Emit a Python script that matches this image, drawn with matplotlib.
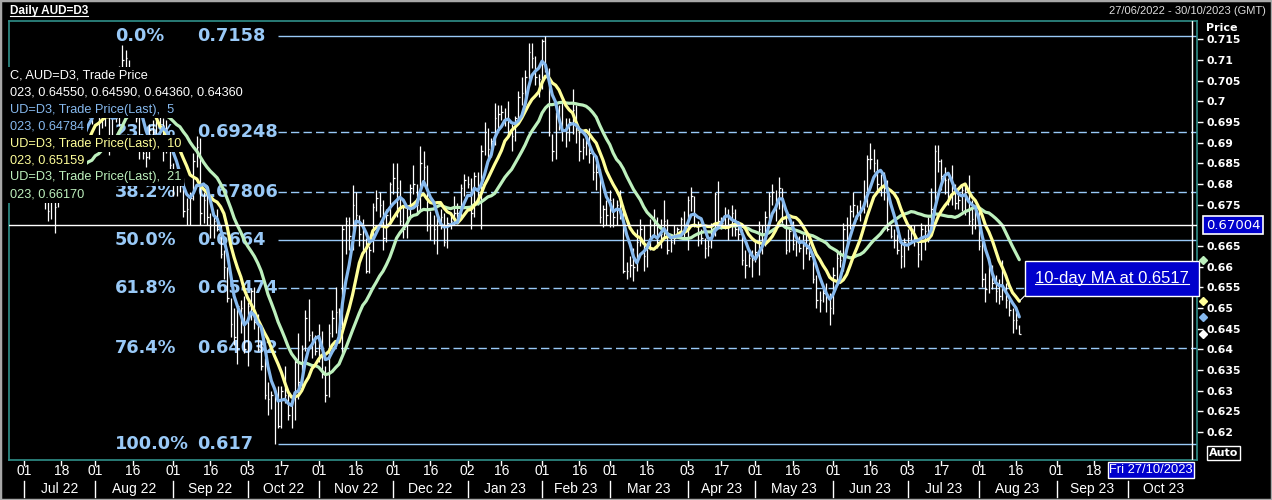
import numpy as np
import pandas as pd
import matplotlib
matplotlib.use("Agg")
import matplotlib.pyplot as plt
from matplotlib import transforms
from matplotlib.lines import Line2D
from matplotlib.patches import Rectangle
from matplotlib.text import Text

W, H = 1272, 500

# trading-day axis of the window (27/06/2022 - 30/10/2023)
first_day = "2022-06-27"
last_day = "2023-10-30"

# daily AUD=D3 bars in 1/10000, Mon 27/06/2022 .. Thu 17/08/2023
close_pips = [
    6925, 6900, 6875, 6905, 6800, 6855, 6775, 6790, 6855, 6855,
    6765, 6735, 6785, 6745, 6800, 6860, 6900, 6890, 6895, 6910,
    6930, 6905, 6980, 6990, 6985, 7030, 6955, 6965, 6975, 6910,
    6990, 6960, 7070, 7100, 7105, 7020, 7040, 6960, 6905, 6875,
    6865, 6930, 6925, 6980, 6910, 6935, 6890, 6845, 6805, 6800,
    6795, 6735, 6740, 6765, 6855, 6890, 6730, 6760, 6720, 6700,
    6710, 6690, 6630, 6600, 6525, 6460, 6430, 6505, 6500, 6400,
    6505, 6540, 6465, 6400, 6360, 6290, 6280, 6290, 6300, 6215,
    6300, 6290, 6240, 6275, 6370, 6320, 6400, 6475, 6435, 6425,
    6395, 6425, 6340, 6290, 6440, 6475, 6490, 6455, 6690, 6710,
    6675, 6750, 6725, 6680, 6665, 6590, 6640, 6745, 6765, 6750,
    6670, 6725, 6800, 6815, 6790, 6710, 6690, 6720, 6790, 6800,
    6750, 6850, 6840, 6700, 6700, 6690, 6710, 6720, 6660, 6705,
    6710, 6730, 6730, 6790, 6810, 6800, 6730, 6820, 6760, 6880,
    6925, 6885, 6905, 6960, 6970, 6975, 6960, 6920, 6915, 6960,
    7010, 7020, 7060, 7120, 7105, 7060, 7055, 7145, 7075, 6925,
    6880, 6965, 6945, 6930, 6925, 6950, 6980, 6930, 6880, 6890,
    6900, 6875, 6830, 6830, 6720, 6740, 6725, 6760, 6720, 6750,
    6735, 6590, 6590, 6605, 6600, 6660, 6690, 6625, 6650, 6700,
    6710, 6660, 6680, 6710, 6640, 6660, 6670, 6690, 6715, 6690,
    6760, 6770, 6700, 6680, 6670, 6645, 6650, 6690, 6775, 6710,
    6705, 6725, 6700, 6730, 6690, 6680, 6615, 6605, 6620, 6615,
    6635, 6690, 6680, 6720, 6770, 6780, 6760, 6790, 6720, 6640,
    6685, 6655, 6665, 6645, 6650, 6645, 6625, 6570, 6520, 6520,
    6535, 6530, 6500, 6580, 6620, 6615, 6690, 6700, 6735, 6750,
    6730, 6740, 6770, 6860, 6860, 6850, 6800, 6795, 6800, 6690,
    6675, 6665, 6640, 6625, 6660, 6670, 6690, 6665, 6630, 6690,
    6685, 6700, 6740, 6880, 6855, 6820, 6810, 6765, 6790, 6755,
    6760, 6785, 6780, 6710, 6715, 6730, 6650, 6570, 6545, 6595,
    6560, 6540, 6530, 6545, 6520, 6495, 6470, 6471, 6436,
]
high_pips = [
    6965, 6965, 6915, 6925, 6900, 6870, 6870, 6800, 6875, 6875,
    6860, 6790, 6795, 6800, 6815, 6870, 6920, 6925, 6935, 6940,
    6945, 6960, 6990, 7010, 7005, 7050, 7040, 6990, 7000, 7000,
    7000, 7000, 7085, 7136, 7125, 7100, 7055, 7050, 6985, 6915,
    6895, 6945, 6955, 6990, 7010, 6960, 6955, 6905, 6850, 6845,
    6830, 6815, 6765, 6780, 6875, 6915, 6910, 6780, 6790, 6730,
    6720, 6740, 6700, 6640, 6600, 6525, 6500, 6510, 6520, 6530,
    6515, 6545, 6550, 6485, 6420, 6380, 6320, 6300, 6300, 6310,
    6310, 6360, 6300, 6290, 6380, 6440, 6410, 6495, 6522, 6445,
    6435, 6460, 6445, 6360, 6460, 6495, 6550, 6500, 6700, 6720,
    6720, 6797, 6780, 6725, 6715, 6670, 6650, 6755, 6785, 6780,
    6760, 6740, 6805, 6850, 6850, 6810, 6745, 6745, 6800, 6845,
    6800, 6893, 6880, 6845, 6735, 6725, 6735, 6740, 6730, 6720,
    6725, 6770, 6755, 6800, 6825, 6820, 6815, 6830, 6830, 6895,
    6950, 6935, 6910, 6995, 6990, 6990, 6985, 7000, 6945, 6965,
    7025, 7060, 7075, 7140, 7140, 7110, 7065, 7150, 7158, 7080,
    6920, 6975, 6990, 7000, 6960, 6960, 7030, 6990, 6935, 6910,
    6915, 6935, 6880, 6850, 6835, 6750, 6760, 6785, 6765, 6760,
    6785, 6750, 6610, 6625, 6645, 6690, 6715, 6700, 6660, 6715,
    6740, 6720, 6715, 6760, 6715, 6680, 6700, 6695, 6720, 6735,
    6770, 6793, 6770, 6710, 6690, 6670, 6665, 6705, 6780, 6806,
    6720, 6745, 6740, 6750, 6740, 6710, 6690, 6640, 6640, 6640,
    6660, 6710, 6700, 6735, 6780, 6800, 6785, 6818, 6790, 6730,
    6695, 6710, 6675, 6675, 6680, 6685, 6660, 6630, 6580, 6540,
    6550, 6560, 6535, 6600, 6640, 6640, 6705, 6720, 6750, 6780,
    6750, 6760, 6810, 6870, 6900, 6885, 6860, 6825, 6830, 6810,
    6700, 6690, 6680, 6660, 6670, 6690, 6700, 6700, 6670, 6705,
    6700, 6720, 6790, 6895, 6895, 6860, 6840, 6815, 6845, 6800,
    6790, 6800, 6800, 6822, 6760, 6740, 6735, 6665, 6585, 6620,
    6605, 6580, 6570, 6615, 6560, 6525, 6500, 6490, 6459,
]
low_pips = [
    6895, 6880, 6855, 6850, 6765, 6790, 6762, 6765, 6780, 6805,
    6740, 6710, 6715, 6681, 6745, 6790, 6825, 6855, 6875, 6870,
    6890, 6870, 6890, 6960, 6945, 6975, 6885, 6935, 6940, 6870,
    6905, 6950, 6940, 7055, 7075, 6985, 6975, 6950, 6860, 6860,
    6840, 6860, 6900, 6910, 6895, 6855, 6875, 6835, 6770, 6770,
    6780, 6720, 6700, 6700, 6760, 6840, 6700, 6705, 6700, 6670,
    6670, 6685, 6620, 6570, 6515, 6430, 6410, 6365, 6440, 6390,
    6360, 6470, 6450, 6395, 6350, 6280, 6240, 6255, 6170, 6210,
    6210, 6270, 6230, 6210, 6230, 6280, 6310, 6395, 6420, 6380,
    6385, 6370, 6330, 6272, 6285, 6430, 6440, 6450, 6390, 6630,
    6640, 6640, 6700, 6650, 6640, 6585, 6585, 6635, 6735, 6720,
    6640, 6660, 6705, 6775, 6720, 6700, 6670, 6670, 6715, 6775,
    6730, 6735, 6810, 6685, 6665, 6655, 6630, 6690, 6650, 6645,
    6690, 6700, 6710, 6715, 6770, 6790, 6690, 6720, 6750, 6690,
    6870, 6855, 6865, 6895, 6935, 6955, 6940, 6915, 6880, 6905,
    6955, 6990, 7000, 7055, 7080, 7040, 7010, 7030, 7070, 6915,
    6855, 6860, 6930, 6905, 6890, 6905, 6920, 6900, 6855, 6860,
    6870, 6850, 6810, 6785, 6705, 6695, 6700, 6695, 6695, 6700,
    6715, 6585, 6570, 6575, 6564, 6590, 6650, 6590, 6600, 6640,
    6675, 6645, 6645, 6670, 6630, 6635, 6655, 6670, 6675, 6670,
    6640, 6735, 6695, 6650, 6655, 6620, 6625, 6645, 6675, 6700,
    6690, 6690, 6665, 6675, 6675, 6665, 6605, 6572, 6600, 6575,
    6610, 6580, 6630, 6650, 6695, 6750, 6710, 6740, 6705, 6630,
    6635, 6640, 6625, 6635, 6595, 6630, 6615, 6560, 6500, 6490,
    6515, 6490, 6458, 6485, 6555, 6600, 6590, 6650, 6690, 6720,
    6715, 6710, 6730, 6745, 6835, 6830, 6785, 6770, 6760, 6685,
    6670, 6645, 6630, 6596, 6600, 6640, 6665, 6650, 6600, 6615,
    6640, 6660, 6690, 6730, 6830, 6785, 6775, 6750, 6750, 6740,
    6740, 6735, 6725, 6700, 6680, 6690, 6640, 6550, 6515, 6535,
    6545, 6515, 6510, 6520, 6500, 6480, 6440, 6450, 6436,
]

ma_periods = [21, 10, 5]
ma_colors = ["#bdf0bd", "#ffff99", "#86b9ee"]

fib_ratios = [0.0, 0.236, 0.382, 0.5, 0.618, 0.764, 1.0]
fib_names = ["0.0%", "23.6%", "38.2%", "50.0%", "61.8%", "76.4%", "100.0%"]
fib_dashed = [False, True, True, False, True, True, False]

price_ticks = [0.62, 0.625, 0.63, 0.635, 0.64, 0.645, 0.65, 0.655, 0.66, 0.665,
               0.675, 0.68, 0.685, 0.69, 0.695, 0.7, 0.705, 0.71, 0.715]

day_tick_dates = ["2022-07-01", "2022-07-18", "2022-08-01", "2022-08-16",
                  "2022-09-01", "2022-09-16", "2022-10-03", "2022-10-17",
                  "2022-11-01", "2022-11-16", "2022-12-01", "2022-12-16",
                  "2023-01-02", "2023-01-16", "2023-02-01", "2023-02-16",
                  "2023-03-01", "2023-03-16", "2023-04-03", "2023-04-17",
                  "2023-05-01", "2023-05-16", "2023-06-01", "2023-06-16",
                  "2023-07-03", "2023-07-17", "2023-08-01", "2023-08-16",
                  "2023-09-01", "2023-09-18"]

cursor_date = "2023-10-27"
cursor_price = 0.67004
note_text = "10-day MA at 0.6517"

legend_rows = [
    ("C, AUD=D3, Trade Price", "white"),
    ("023, 0.64550, 0.64590, 0.64360, 0.64360", "white"),
    ("UD=D3, Trade Price(Last),  5", ma_colors[2]),
    ("023, 0.64784", ma_colors[2]),
    ("UD=D3, Trade Price(Last),  10", ma_colors[1]),
    ("023, 0.65159", ma_colors[1]),
    ("UD=D3, Trade Price(Last),  21", ma_colors[0]),
    ("023, 0.66170", ma_colors[0]),
]

assert len(close_pips) == len(high_pips) == len(low_pips)

dates = pd.bdate_range(first_day, last_day)
n_days = len(dates)
close = np.array(close_pips) / 10000
high = np.array(high_pips) / 10000
low = np.array(low_pips) / 10000
x = np.arange(len(close))

fib_color = "#99c9f7"
teal = "#2f8f8a"

fig = plt.figure(figsize=(W / 100, H / 100), dpi=100, facecolor="black")
ax = fig.add_axes([9 / W, 1 - 460 / H, 1188 / W, 439 / H], facecolor="black")
ax.set_xlim(-0.5, n_days - 0.5)
ax.set_ylim(0.61321, 0.71943)

yb = transforms.blended_transform_factory(ax.transAxes, ax.transData)
xb = transforms.blended_transform_factory(ax.transData, ax.transAxes)


def ay(py):
    # pixel row -> axes fraction
    return (460 - py) / 439


# fibonacci retracement from the Oct 22 low to the Feb 23 high
fib_low, fib_high = low.min(), high.max()
fib_start = int(np.argmin(low)) + 1
for ratio, name, dashed in zip(fib_ratios, fib_names, fib_dashed):
    level = fib_high - ratio * (fib_high - fib_low)
    ax.hlines(level, fib_start, n_days - 0.5, color=fib_color, lw=1,
              linestyles=(0, (6, 3)) if dashed else "solid", zorder=1)
    ax.text(0.0892, level, name, transform=yb, ha="left", va="center",
            color=fib_color, fontsize=12.8, fontweight="bold",
            family="DejaVu Sans", zorder=2)
    ax.text(0.1582, level, f"{level:.5g}", transform=yb, ha="left", va="center",
            color=fib_color, fontsize=12.8, fontweight="bold",
            family="DejaVu Sans", zorder=2)

# bars
ax.vlines(x, low, high, color="white", lw=0.9, zorder=3)
ax.hlines(close, x, x + 0.45, color="white", lw=0.9, zorder=3)

# moving averages
s = pd.Series(close)
ma_last = {}
for n, col in zip(ma_periods, ma_colors):
    ma = s.rolling(n, min_periods=1).mean().to_numpy()
    ma_last[n] = ma
    ax.plot(x, ma, color=col, lw=2.3, zorder=4, solid_capstyle="round")

# crosshair
cursor_idx = dates.get_loc(pd.Timestamp(cursor_date))
ax.axhline(cursor_price, color="white", lw=1, zorder=5)
ax.axvline(cursor_idx, color="white", lw=1, zorder=5)

# legend block
for k, (txt, col) in enumerate(legend_rows):
    ax.text(0.001, ay(76 + 16.9 * k), txt, transform=ax.transAxes, ha="left",
            va="center", color=col, fontsize=9.2, family="Liberation Sans",
            bbox=dict(boxstyle="square,pad=0.2", fc="black", ec="none"),
            zorder=9)

# callout
ma10 = ma_last[10]
ann = ax.annotate(note_text, xy=(x[-1], ma10[-1]), xytext=(1112, H - 278),
                  textcoords="figure pixels", ha="center", va="center",
                  color="white", fontsize=12, family="Liberation Sans",
                  bbox=dict(boxstyle="square,pad=0.6", fc="#0000cc", ec="white", lw=1),
                  arrowprops=dict(arrowstyle="-", color="white", lw=0.8,
                                  relpos=(0, 0), shrinkA=0, shrinkB=0),
                  zorder=8, annotation_clip=False)

# right price axis
ax.yaxis.tick_right()
ax.set_yticks(price_ticks)
ax.set_yticklabels([f"{t:g}" for t in price_ticks])
ax.tick_params(axis="y", colors="white", length=4, width=1, pad=2.5, labelsize=7.8)
for lab in ax.get_yticklabels():
    lab.set_fontweight("bold")
    lab.set_family("DejaVu Sans")
ax.set_xticks([])
for sp in ax.spines.values():
    sp.set_color(teal)
    sp.set_linewidth(1.2)

ax.text(1.0076, cursor_price, f"{cursor_price:.5f}", transform=yb, ha="left",
        va="center", color="white", fontsize=9.5, family="DejaVu Sans",
        bbox=dict(boxstyle="square,pad=0.2", fc="#0000cc", ec="white", lw=1.2),
        clip_on=False, zorder=10)

last_marks = [(ma_last[21][-1], ma_colors[0]), (ma_last[10][-1], ma_colors[1]),
              (ma_last[5][-1], ma_colors[2]), (close[-1], "white")]
for val, col in last_marks:
    ax.plot([1.005], [val], marker="D", ms=4, color=col, transform=yb,
            clip_on=False, zorder=10, ls="none")

fig.text(1206 / W, 1 - 28 / H, "Price", color="white", fontsize=8,
         fontweight="bold", family="DejaVu Sans", va="center")
fig.text(1209 / W, 1 - 453 / H, "Auto", color="white", fontsize=8,
         fontweight="bold", family="DejaVu Sans", va="center",
         bbox=dict(boxstyle="square,pad=0.15", fc="black", ec="white", lw=1))

# date axis
xfont = dict(color="white", fontsize=10, family=["Liberation Sans Narrow", "Liberation Sans"])
for d in day_tick_dates:
    ts = pd.Timestamp(d)
    i = dates.get_loc(ts)
    ax.plot([i, i], [ay(461), ay(465)], color="white", lw=1, transform=xb, clip_on=False)
    ax.text(i, ay(471), ts.strftime("%d"), transform=xb, ha="center", va="center",
            clip_on=False, **xfont)

months = pd.date_range("2022-07-01", "2023-10-01", freq="MS")
firsts = [int(dates.searchsorted(m)) for m in months]
for k, m in enumerate(months):
    f = firsts[k]
    nxt = firsts[k + 1] if k + 1 < len(firsts) else n_days
    ax.plot([f, f], [ay(481), ay(497)], color="white", lw=1, transform=xb, clip_on=False)
    ax.text((f + nxt) / 2, ay(489), m.strftime("%b %y"), transform=xb, ha="center",
            va="center", clip_on=False, **xfont)

box_font = dict(xfont, fontsize=9.3)
ax.text(cursor_idx + 0.3, ay(470), pd.Timestamp(cursor_date).strftime("%a %d/%m/%Y"),
        transform=xb, ha="right", va="center", clip_on=False, zorder=10,
        bbox=dict(boxstyle="square,pad=0.12", fc="#0000cc", ec="white", lw=1), **box_font)

# header strip
title = fig.text(10 / W, 1 - 11 / H, "Daily AUD=D3", color="white", fontsize=8.5,
                 fontweight="bold", family="Liberation Sans", va="center")
fig.text(1266 / W, 1 - 11 / H, f"{dates[0]:%d/%m/%Y} - {dates[-1]:%d/%m/%Y} (GMT)",
         color="#dddddd", fontsize=8, family="Liberation Sans", ha="right", va="center")

fig.add_artist(Rectangle((0, 0), 1, 1, transform=fig.transFigure, fill=False,
                         ec="#a8a8a8", lw=2.5))

# underlines
fig.canvas.draw()
r = fig.canvas.get_renderer()


def underline(t, off=1.5):
    bb = Text.get_window_extent(t, r)
    yy = (bb.y0 + off) / H
    fig.add_artist(Line2D([bb.x0 / W, bb.x1 / W], [yy, yy], transform=fig.transFigure,
                          color="white", lw=0.8, zorder=20))


underline(title)
underline(ann)

fig.savefig("out.png", dpi=100, facecolor="black")
